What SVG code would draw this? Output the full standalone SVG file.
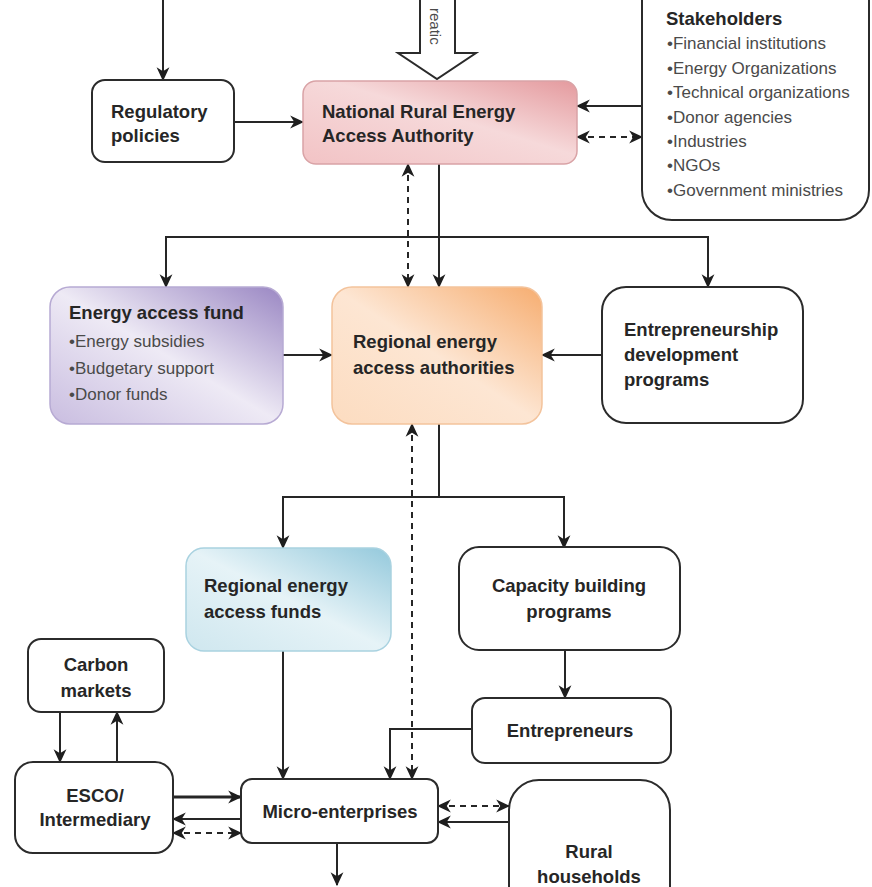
<svg xmlns="http://www.w3.org/2000/svg" width="872" height="887" viewBox="0 0 872 887">
<defs>
<style>
.box{fill:#fff;stroke:#2b2b2b;stroke-width:2}
.t{font-family:"Liberation Sans",Arial,sans-serif;font-weight:bold;font-size:18.5px;fill:#262626}
.b{font-family:"Liberation Sans",Arial,sans-serif;font-size:17px;fill:#4a4a4a}
.c{text-anchor:middle}
.ln{fill:none;stroke:#262626;stroke-width:2}
.ln.e{marker-end:url(#arr)}
.ln.bi{marker-start:url(#arr);marker-end:url(#arr)}
.dash{stroke-dasharray:6 5}
</style>
<marker id="arr" viewBox="0 0 12 12" refX="11" refY="6" markerWidth="14" markerHeight="14" markerUnits="userSpaceOnUse" orient="auto-start-reverse">
<path d="M0,0.5 L12,6 L0,11.5 L3.5,6 z" fill="#1e1e1e"/>
</marker>
<linearGradient id="gPink" x1="0" y1="1" x2="1" y2="0">
<stop offset="0" stop-color="#f2c3c5"/>
<stop offset="0.55" stop-color="#f6d9da"/>
<stop offset="1" stop-color="#e49a9e"/>
</linearGradient>
<linearGradient id="gPurple" x1="0" y1="1" x2="1" y2="0">
<stop offset="0" stop-color="#c9bde0"/>
<stop offset="0.5" stop-color="#eeeaf5"/>
<stop offset="1" stop-color="#9a87c3"/>
</linearGradient>
<linearGradient id="gOrange" x1="0" y1="1" x2="1" y2="0">
<stop offset="0" stop-color="#fcdcc0"/>
<stop offset="0.5" stop-color="#fde6d3"/>
<stop offset="1" stop-color="#f6ad70"/>
</linearGradient>
<linearGradient id="gBlue" x1="0" y1="1" x2="1" y2="0">
<stop offset="0" stop-color="#cfe7ef"/>
<stop offset="0.5" stop-color="#e6f3f7"/>
<stop offset="1" stop-color="#94c9dc"/>
</linearGradient>
</defs>
<rect width="872" height="887" fill="#fff"/>

<g id="connectors">
<path class="ln e" d="M163,0 V80"/>
<path class="ln e" d="M234,122 H303"/>
<path class="ln e" d="M642,106 H577"/>
<path class="ln bi dash" d="M577,137 H642"/>
<path class="ln e" d="M439,164 V287"/>
<path class="ln e" d="M439,237 H166 V287"/>
<path class="ln e" d="M439,237 H708 V287"/>
<path class="ln bi dash" d="M408,164 V287"/>
<path class="ln e" d="M283,355 H332"/>
<path class="ln e" d="M602,355 H542"/>
<path class="ln e" d="M439,424 V497 H283 V548"/>
<path class="ln e" d="M439,497 H564 V548"/>
<path class="ln bi dash" d="M412,424 V779"/>
<path class="ln e" d="M283,651 V779"/>
<path class="ln e" d="M565,650 V698"/>
<path class="ln e" d="M472,729 H390 V779"/>
<path class="ln e" d="M60,712 V762"/>
<path class="ln e" d="M117,762 V712"/>
<path class="ln e" d="M173,797 H241" style="stroke-width:3"/>
<path class="ln e" d="M241,819 H173"/>
<path class="ln bi dash" d="M173,833 H241"/>
<path class="ln bi dash" d="M438,806 H509"/>
<path class="ln e" d="M509,822 H438"/>
<path class="ln e" d="M337,843 V885"/>
</g>

<g id="block-arrow">
<path d="M420,-5 V53 H398 L437,79 L476,53 H455 V-5" fill="#fff" stroke="#2b2b2b" stroke-width="2"/>
<text class="b" transform="translate(430,8) rotate(90)" style="font-size:15px">reatic</text>
</g>

<g id="regulatory">
<rect class="box" x="92" y="80" width="142" height="82" rx="13"/>
<text class="t" x="111" y="118">Regulatory</text>
<text class="t" x="111" y="142">policies</text>
</g>

<g id="national">
<rect x="303" y="81" width="274" height="83" rx="13" fill="url(#gPink)" stroke="#d9a3a6" stroke-width="1.5"/>
<text class="t" x="322" y="118">National Rural Energy</text>
<text class="t" x="322" y="142">Access Authority</text>
</g>

<g id="stakeholders">
<rect class="box" x="642" y="-40" width="227" height="260" rx="30"/>
<text class="t" x="666" y="25">Stakeholders</text>
<text class="b" x="667" y="49">•Financial institutions</text>
<text class="b" x="667" y="74">•Energy Organizations</text>
<text class="b" x="667" y="98">•Technical organizations</text>
<text class="b" x="667" y="123">•Donor agencies</text>
<text class="b" x="667" y="147">•Industries</text>
<text class="b" x="667" y="171">•NGOs</text>
<text class="b" x="667" y="196">•Government ministries</text>
</g>

<g id="energy-access-fund">
<rect x="50" y="287" width="233" height="137" rx="20" fill="url(#gPurple)" stroke="#b7aad3" stroke-width="1.5"/>
<text class="t" x="69" y="319">Energy access fund</text>
<text class="b" x="69" y="347">•Energy subsidies</text>
<text class="b" x="69" y="374">•Budgetary support</text>
<text class="b" x="69" y="400">•Donor funds</text>
</g>

<g id="regional-authorities">
<rect x="332" y="287" width="210" height="137" rx="20" fill="url(#gOrange)" stroke="#f3c39c" stroke-width="1.5"/>
<text class="t" x="353" y="348">Regional energy</text>
<text class="t" x="353" y="374">access authorities</text>
</g>

<g id="entrepreneurship">
<rect class="box" x="602" y="287" width="201" height="136" rx="24"/>
<text class="t" x="624" y="336">Entrepreneurship</text>
<text class="t" x="624" y="361">development</text>
<text class="t" x="624" y="386">programs</text>
</g>

<g id="regional-funds">
<rect x="186" y="548" width="205" height="103" rx="18" fill="url(#gBlue)" stroke="#a9d2e0" stroke-width="1.5"/>
<text class="t" x="204" y="592">Regional energy</text>
<text class="t" x="204" y="618">access funds</text>
</g>

<g id="capacity">
<rect class="box" x="459" y="547" width="221" height="103" rx="20"/>
<text class="t c" x="569" y="592">Capacity building</text>
<text class="t c" x="569" y="618">programs</text>
</g>

<g id="entrepreneurs">
<rect class="box" x="472" y="698" width="199" height="65" rx="13"/>
<text class="t c" x="570" y="737">Entrepreneurs</text>
</g>

<g id="carbon">
<rect class="box" x="28" y="639" width="136" height="73" rx="13"/>
<text class="t c" x="96" y="671">Carbon</text>
<text class="t c" x="96" y="697">markets</text>
</g>

<g id="esco">
<rect class="box" x="15" y="762" width="158" height="91" rx="18"/>
<text class="t c" x="95" y="802">ESCO/</text>
<text class="t c" x="95" y="826">Intermediary</text>
</g>

<g id="micro">
<rect class="box" x="241" y="779" width="197" height="64" rx="11"/>
<text class="t c" x="340" y="818">Micro-enterprises</text>
</g>

<g id="rural">
<rect class="box" x="509" y="780" width="161" height="150" rx="30"/>
<text class="t c" x="589" y="858">Rural</text>
<text class="t c" x="589" y="883">households</text>
</g>
</svg>
